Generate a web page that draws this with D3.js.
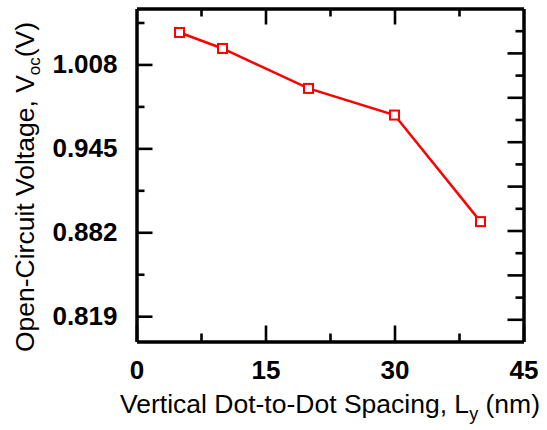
<!DOCTYPE html>
<html>
<head>
<meta charset="utf-8">
<script src="https://cdn.jsdelivr.net/npm/d3@7"></script>
<style>
	body { margin: 0; background: #fff; }
	svg { display: block; }
</style>
</head>
<body>
<svg id="chart" width="547" height="430"></svg>
<script>
// data
var spacing = [5, 10, 20, 30, 40];
var voc = [1.032, 1.020, 0.990, 0.970, 0.890];
var xMajor = [0, 15, 30, 45];
var xMinor = [7.5, 22.5, 37.5];
var yMajor = [0.819, 0.882, 0.945, 1.008];
var yMinor = [0.8505, 0.9135, 0.9765, 1.0395];
// right frame ticks follow their own unlabeled spacing
var rMajor = [0.5, 1.5, 2.5, 3.5, 4.5, 5.5, 6.5];
var rMinor = [1, 2, 3, 4, 5, 6, 7];

var margin = {top: 8.5, right: 23.5, bottom: 88.5, left: 136.5};
var W = 547, H = 430;
var w = W - margin.left - margin.right,
	h = H - margin.top - margin.bottom;

var font = "'Liberation Sans', Arial, sans-serif";

var svg = d3.select('#chart');
var g = svg.append('g')
	.attr('transform', 'translate(' + margin.left + ',' + margin.top + ')');

var x = d3.scaleLinear().domain([0, 45]).range([0, w]);
var y = d3.scaleLinear().domain([0.80, 1.05]).range([h, 0]);
var yR = d3.scaleLinear().domain([0, 7.5]).range([h, 0]);

function styleAxis(sel){
	sel.select('.domain').attr('stroke', '#000').attr('stroke-width', 3);
	sel.selectAll('.tick line').attr('stroke', '#000').attr('stroke-width', 2.6);
	sel.selectAll('text')
		.style('font-family', font)
		.style('font-size', '26px')
		.style('font-weight', 'bold')
		.attr('fill', '#000');
}

// bottom
g.append('g').attr('transform', 'translate(0,' + h + ')')
	.call(d3.axisBottom(x).tickValues(xMinor).tickSize(-8).tickSizeOuter(0).tickFormat(''))
	.call(styleAxis);
g.append('g').attr('transform', 'translate(0,' + h + ')')
	.call(d3.axisBottom(x).tickValues(xMajor).tickSize(-16).tickSizeOuter(0).tickPadding(19).tickFormat(d3.format('d')))
	.call(styleAxis);
// top
g.append('g')
	.call(d3.axisTop(x).tickValues(xMinor).tickSize(-8).tickSizeOuter(0).tickFormat(''))
	.call(styleAxis);
g.append('g')
	.call(d3.axisTop(x).tickValues(xMajor.slice(1, 3)).tickSize(-16).tickSizeOuter(0).tickFormat(''))
	.call(styleAxis);
// left
g.append('g')
	.call(d3.axisLeft(y).tickValues(yMinor).tickSize(-8).tickSizeOuter(0).tickFormat(''))
	.call(styleAxis);
g.append('g')
	.call(d3.axisLeft(y).tickValues(yMajor).tickSize(-16).tickSizeOuter(0).tickPadding(19).tickFormat(d3.format('.3f')))
	.call(styleAxis);
// right
g.append('g').attr('transform', 'translate(' + w + ',0)')
	.call(d3.axisRight(yR).tickValues(rMinor).tickSize(-8).tickSizeOuter(0).tickFormat(''))
	.call(styleAxis);
g.append('g').attr('transform', 'translate(' + w + ',0)')
	.call(d3.axisRight(yR).tickValues(rMajor).tickSize(-16).tickSizeOuter(0).tickFormat(''))
	.call(styleAxis);

// series
var pts = spacing.map(function(d, i){ return {x: d, y: voc[i]}; });

g.append('path')
	.datum(pts)
	.attr('fill', 'none')
	.attr('stroke', '#ff0000')
	.attr('stroke-width', 2.5)
	.attr('d', d3.line().x(d => x(d.x)).y(d => y(d.y)));

g.selectAll('.mark')
	.data(pts)
	.enter().append('rect')
	.classed('mark', true)
	.attr('x', d => x(d.x) - 4.5)
	.attr('y', d => y(d.y) - 4.5)
	.attr('width', 9)
	.attr('height', 9)
	.attr('fill', '#fff')
	.attr('stroke', '#ff0000')
	.attr('stroke-width', 2);

// axis titles
var xt = svg.append('text')
	.attr('x', margin.left + w / 2)
	.attr('y', 413)
	.attr('text-anchor', 'middle')
	.style('font-family', font)
	.style('font-size', '26.5px');
xt.append('tspan').text('Vertical Dot-to-Dot Spacing, L');
xt.append('tspan').attr('dy', 7).style('font-size', '18px').text('y');
xt.append('tspan').attr('dy', -7).text(' (nm)');

var yt = svg.append('text')
	.attr('transform', 'translate(34,187) rotate(-90)')
	.attr('text-anchor', 'middle')
	.style('font-family', font)
	.style('font-size', '26.5px');
yt.append('tspan').text('Open-Circuit Voltage, V');
yt.append('tspan').attr('dy', 6).style('font-size', '17px').text('oc');
yt.append('tspan').attr('dy', -6).text('(V)');
</script>
</body>
</html>
